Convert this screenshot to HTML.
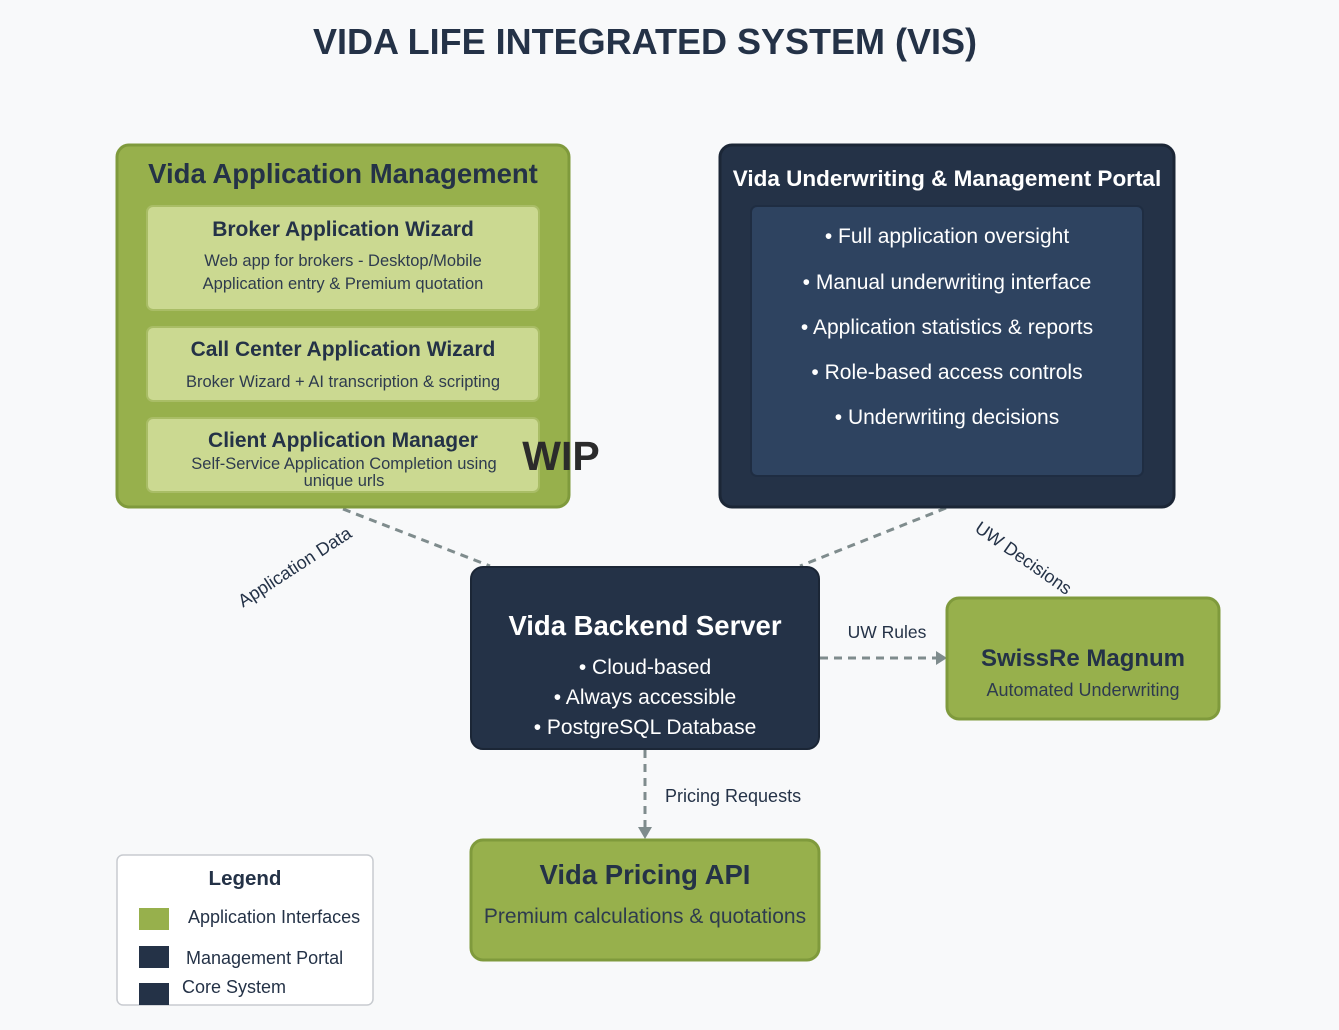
<!DOCTYPE html>
<html><head><meta charset="utf-8"><style>
html,body{margin:0;padding:0;background:#f8f9fa;}
svg{display:block;font-family:"Liberation Sans",Arial,sans-serif;}
</style></head><body>
<svg width="1339" height="1030" viewBox="0 0 1339 1030" xmlns="http://www.w3.org/2000/svg">
<rect width="1339" height="1030" fill="#f8f9fa"/>
<text x="645" y="54" text-anchor="middle" font-size="36" font-weight="bold" fill="#243247">VIDA LIFE INTEGRATED SYSTEM (VIS)</text>

<g stroke="#7f8c8d" stroke-width="3" stroke-dasharray="8,6" fill="none">
<line x1="343" y1="509" x2="490" y2="566"/>
<line x1="946" y1="508" x2="800" y2="566"/>
<line x1="820" y1="658" x2="938" y2="658"/>
<line x1="645" y1="750" x2="645" y2="828"/>
</g>
<polygon points="936,651 947,658 936,665" fill="#7f8c8d"/>
<polygon points="638,827 645,839 652,827" fill="#7f8c8d"/>
<text x="298" y="572" text-anchor="middle" font-size="18" fill="#243247" transform="rotate(-33 298 572)">Application Data</text>
<text x="1020" y="563" text-anchor="middle" font-size="18" fill="#243247" transform="rotate(35 1020 563)">UW Decisions</text>
<text x="887" y="638" text-anchor="middle" font-size="17.5" fill="#243247">UW Rules</text>
<text x="665" y="802" font-size="18" fill="#243247">Pricing Requests</text>

<rect x="117" y="145" width="452" height="362" rx="12" fill="#97b04c" stroke="#7f9a3c" stroke-width="3"/>
<text x="343" y="183" text-anchor="middle" font-size="27.5" font-weight="bold" fill="#243247">Vida Application Management</text>
<rect x="147" y="206" width="392" height="104" rx="6" fill="#cbd991" stroke="#a9bd66" stroke-width="2"/>
<text x="343" y="236" text-anchor="middle" font-size="21" font-weight="bold" fill="#243247">Broker Application Wizard</text>
<text x="343" y="266" text-anchor="middle" font-size="16.5" fill="#2e3b4e">Web app for brokers - Desktop/Mobile</text>
<text x="343" y="289" text-anchor="middle" font-size="16.5" fill="#2e3b4e">Application entry &amp; Premium quotation</text>
<rect x="147" y="327" width="392" height="74" rx="6" fill="#cbd991" stroke="#a9bd66" stroke-width="2"/>
<text x="343" y="356" text-anchor="middle" font-size="21" font-weight="bold" fill="#243247">Call Center Application Wizard</text>
<text x="343" y="387" text-anchor="middle" font-size="16.5" fill="#2e3b4e">Broker Wizard + AI transcription &amp; scripting</text>
<rect x="147" y="418" width="392" height="74" rx="6" fill="#cbd991" stroke="#a9bd66" stroke-width="2"/>
<text x="343" y="447" text-anchor="middle" font-size="21" font-weight="bold" fill="#243247">Client Application Manager</text>
<text x="344" y="469" text-anchor="middle" font-size="16.5" fill="#2e3b4e">Self-Service Application Completion using</text>
<text x="344" y="486" text-anchor="middle" font-size="16.5" fill="#2e3b4e">unique urls</text>
<text x="561" y="470" text-anchor="middle" font-size="41" font-weight="bold" fill="#2b2b2b">WIP</text>

<rect x="720" y="145" width="454" height="362" rx="12" fill="#243247" stroke="#1b2636" stroke-width="3"/>
<text x="947" y="186" text-anchor="middle" font-size="22.5" font-weight="bold" fill="#ffffff">Vida Underwriting &amp; Management Portal</text>
<rect x="751" y="206" width="392" height="270" rx="6" fill="#2e4360" stroke="#1f2d42" stroke-width="2"/>
<g font-size="21" fill="#ffffff" text-anchor="middle">
<text x="947" y="243">• Full application oversight</text>
<text x="947" y="289">• Manual underwriting interface</text>
<text x="947" y="334">• Application statistics &amp; reports</text>
<text x="947" y="379">• Role-based access controls</text>
<text x="947" y="424">• Underwriting decisions</text>
</g>

<rect x="471" y="567" width="348" height="182" rx="12" fill="#243247" stroke="#1b2636" stroke-width="2"/>
<text x="645" y="635" text-anchor="middle" font-size="27.5" font-weight="bold" fill="#ffffff">Vida Backend Server</text>
<g font-size="21" fill="#ffffff" text-anchor="middle">
<text x="645" y="674">• Cloud-based</text>
<text x="645" y="704">• Always accessible</text>
<text x="645" y="734">• PostgreSQL Database</text>
</g>

<rect x="947" y="598" width="272" height="121" rx="12" fill="#97b04c" stroke="#7f9a3c" stroke-width="3"/>
<text x="1083" y="666" text-anchor="middle" font-size="24" font-weight="bold" fill="#243247">SwissRe Magnum</text>
<text x="1083" y="696" text-anchor="middle" font-size="18" fill="#2e3b4e">Automated Underwriting</text>

<rect x="471" y="840" width="348" height="120" rx="12" fill="#97b04c" stroke="#7f9a3c" stroke-width="3"/>
<text x="645" y="884" text-anchor="middle" font-size="27.5" font-weight="bold" fill="#243247">Vida Pricing API</text>
<text x="645" y="923" text-anchor="middle" font-size="21" fill="#2e3b4e">Premium calculations &amp; quotations</text>

<rect x="117" y="855" width="256" height="150" rx="6" fill="#ffffff" stroke="#c8cbd0" stroke-width="1.5"/>
<text x="245" y="885" text-anchor="middle" font-size="20.5" font-weight="bold" fill="#243247">Legend</text>
<rect x="139" y="908" width="30" height="22" fill="#97b04c"/>
<text x="188" y="923" font-size="18" fill="#243247">Application Interfaces</text>
<rect x="139" y="946" width="30" height="22" fill="#243247"/>
<text x="186" y="964" font-size="18" fill="#243247">Management Portal</text>
<rect x="139" y="983" width="30" height="22" fill="#243247"/>
<text x="182" y="993" font-size="18" fill="#243247">Core System</text>
</svg>
</body></html>
